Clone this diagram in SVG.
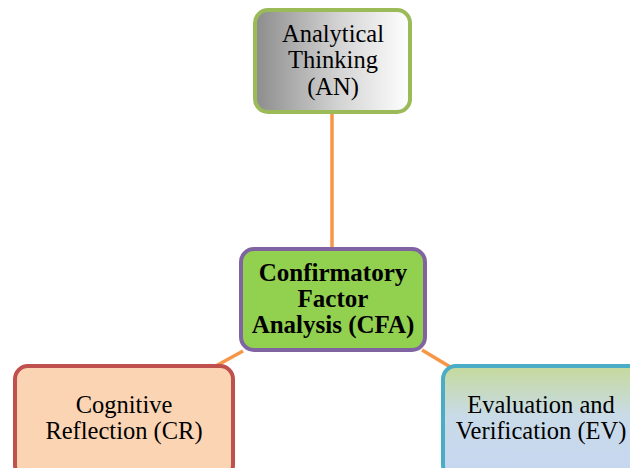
<svg xmlns="http://www.w3.org/2000/svg" width="630" height="468" viewBox="0 0 630 468">
<defs>
<linearGradient id="gAN" x1="0" y1="0" x2="1" y2="0">
<stop offset="0" stop-color="#8c8c8c"/>
<stop offset="0.55" stop-color="#d4d4d4"/>
<stop offset="1" stop-color="#ffffff"/>
</linearGradient>
<linearGradient id="gEV" x1="0" y1="0" x2="0" y2="1">
<stop offset="0" stop-color="#c5d99c"/>
<stop offset="0.45" stop-color="#c9dbe8"/>
<stop offset="1" stop-color="#c6d6f2"/>
</linearGradient>
<style>
text{font-family:"Liberation Serif","Times New Roman",serif;font-size:24.5px;fill:#000;text-anchor:middle}
.b{font-weight:bold;font-size:25px}
.c{stroke:#f79646;stroke-width:3.5;fill:none}
</style>
</defs>
<rect width="630" height="468" fill="#fff"/>
<g id="connectors">
<line class="c" x1="332" y1="112" x2="332" y2="249"/>
<line class="c" x1="243" y1="351" x2="214" y2="367"/>
<line class="c" x1="422" y1="350" x2="452" y2="368"/>
</g>
<g id="AN">
<rect x="255" y="10" width="155" height="102" rx="13" fill="url(#gAN)" stroke="#9bbb59" stroke-width="4"/>
<text x="333" y="42">Analytical</text>
<text x="333" y="68">Thinking</text>
<text x="333" y="95">(AN)</text>
</g>
<g id="CFA">
<rect x="241" y="249" width="184" height="101" rx="13" fill="#92d050" stroke="#8064a2" stroke-width="4"/>
<text class="b" x="333" y="281">Confirmatory</text>
<text class="b" x="333" y="307">Factor</text>
<text class="b" x="333" y="333">Analysis (CFA)</text>
</g>
<g id="CR">
<rect x="15" y="366" width="218" height="112" rx="13" fill="#fbd4b4" stroke="#c0504d" stroke-width="4"/>
<text x="124" y="413">Cognitive</text>
<text x="124" y="439">Reflection (CR)</text>
</g>
<g id="EV">
<rect x="443" y="366" width="200" height="112" rx="13" fill="url(#gEV)" stroke="#4bacc6" stroke-width="4"/>
<text x="541" y="413">Evaluation and</text>
<text x="541" y="439">Verification (EV)</text>
</g>
</svg>
